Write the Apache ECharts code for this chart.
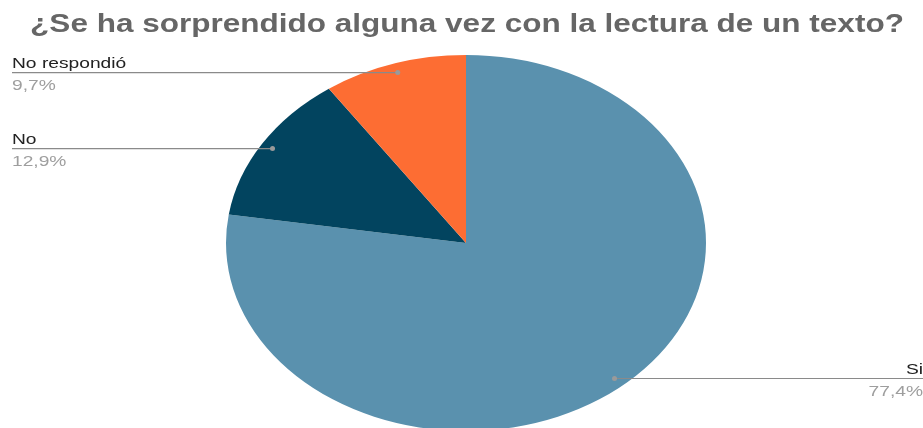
<!DOCTYPE html>
<html><head><meta charset="utf-8">
<script src="https://cdn.jsdelivr.net/npm/echarts@6/dist/echarts.min.js"></script>
<style>html,body{margin:0;padding:0;background:#fff}#c{width:923px;height:428px}</style>
</head><body><div id="c"></div>
<script>
const titleText = '¿Se ha sorprendido alguna vez con la lectura de un texto?';
const categories = ['Si', 'No', 'No respondió'];
const counts = [24, 4, 3];
const colors = ['#5a91ae', '#02445f', '#fd6d33'];

const total = counts.reduce((a, b) => a + b, 0);
const cx = 466, cy = 243, rx = 240, ry = 188;
const W = 923;
const font = 'Liberation Sans, Arial, sans-serif';
const labelScaleX = 1.28;

function fmtPct(v) { return (v / total * 100).toFixed(1).replace('.', ',') + '%'; }

const chart = echarts.init(document.getElementById('c'), null, {renderer: 'canvas'});
chart.setOption({
  animation: false,
  graphic: [{
    type: 'text', x: 467, y: 12, scaleX: 1.212,
    style: {text: titleText, font: 'bold 26px ' + font, fill: '#666', align: 'center', verticalAlign: 'top'}
  }],
  series: [{
    type: 'custom',
    coordinateSystem: 'none',
    data: categories.map((c, i) => ({name: c, value: counts[i]})),
    renderItem: function (params, api) {
      const i = params.dataIndex;
      let before = 0;
      for (let k = 0; k < i; k++) before += counts[k];
      const v = api.value(0);
      const a0 = -Math.PI / 2 + before / total * Math.PI * 2;
      const a1 = a0 + v / total * Math.PI * 2;
      const am = (a0 + a1) / 2;
      const dx = Math.cos(am) * rx * 0.95, dy = Math.sin(am) * ry * 0.95;
      const px = cx + dx, py = cy + dy;
      const left = dx < 0;
      const lx = left ? 12 : W;
      return {
        type: 'group',
        children: [
          {
            type: 'sector',
            x: cx, y: cy, scaleX: 1, scaleY: ry / rx,
            shape: {cx: 0, cy: 0, r: rx, r0: 0, startAngle: a0, endAngle: a1, clockwise: true},
            style: {fill: colors[i]}
          },
          {
            type: 'line', z2: 10,
            shape: {x1: px, y1: py, x2: lx, y2: py},
            style: {stroke: '#8a8a8a', lineWidth: 1.2}
          },
          {
            type: 'circle', z2: 11,
            shape: {cx: px, cy: py, r: 2.5},
            style: {fill: '#9a9a9a'}
          },
          {
            type: 'text', z2: 12,
            x: lx, y: py - 1, scaleX: labelScaleX,
            style: {text: categories[i], font: '15px ' + font, fill: '#222', align: left ? 'left' : 'right', verticalAlign: 'bottom'}
          },
          {
            type: 'text', z2: 12,
            x: lx, y: py + 6, scaleX: labelScaleX,
            style: {text: fmtPct(v), font: '15px ' + font, fill: '#9e9e9e', align: left ? 'left' : 'right', verticalAlign: 'top'}
          }
        ]
      };
    }
  }]
});
</script>
</body></html>
